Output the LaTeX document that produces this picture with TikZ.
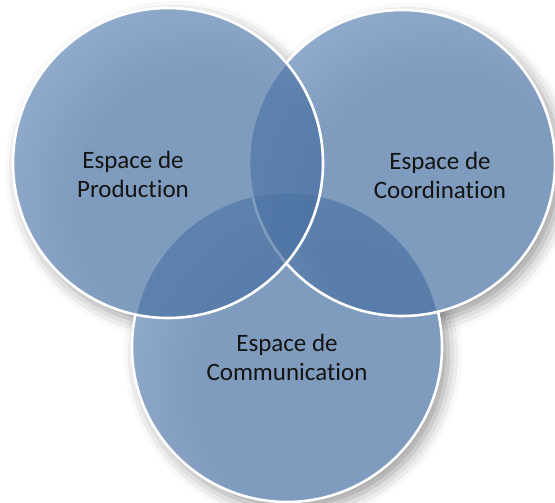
\documentclass[tikz,border=0pt]{standalone}
\usepackage{fontspec}
\setmainfont{Carlito}[RawFeature={-liga;-clig;-dlig;-calt}]
\usepackage{tikz}
\usetikzlibrary{shadows.blur}
\definecolor{vennbase}{HTML}{4A71A2}
\definecolor{vennglow}{HTML}{82A6D0}
\definecolor{inkgray}{HTML}{141414}
\pgfdeclareradialshading{vennshade}{\pgfpoint{10bp}{-10bp}}{color(0bp)=(vennbase); color(22bp)=(vennbase); color(48bp)=(vennglow); color(70bp)=(vennglow)}

\begin{document}
\begin{tikzpicture}[x=1pt,y=1pt,
  disc/.style={circle,inner sep=0pt,minimum size=#1},
  venn/.style={disc=#1,shade,shading=vennshade,fill opacity=0.7,draw=white,draw opacity=1,line width=2.6pt},
  backing/.style={fill=white},
  dropshadow/.style={blur shadow={shadow xshift=6pt,shadow yshift=-7pt,shadow blur radius=14pt,shadow opacity=40}},
  lbl/.style={font=\fontsize{25}{29}\selectfont,text=inkgray,align=center}]
\useasboundingbox (0,0) rectangle (555,503);
% soft shadow, then an opaque white backing so it stays outside
\path[dropshadow] (287,156) circle (155);
\path[dropshadow] (402,340) circle (153);
\path[dropshadow] (168,340) circle (155);
\fill[backing] (287,156) circle (155) (402,340) circle (153) (168,340) circle (155);
% the three spaces, bottom one first
\node[venn=310pt] (comm) at (287,156) {};
\node[venn=306pt] (coord) at (402,340) {};
\node[venn=310pt] (prod) at (168,340) {};
\node[lbl] (prodtxt) at (133,329) {Espace de\\Production};
\node[lbl] (coordtxt) at (440,328) {Espace de\\Coordination};
\node[lbl] (commtxt) at (287,146) {Espace de\\Communication};
\end{tikzpicture}
\end{document}
